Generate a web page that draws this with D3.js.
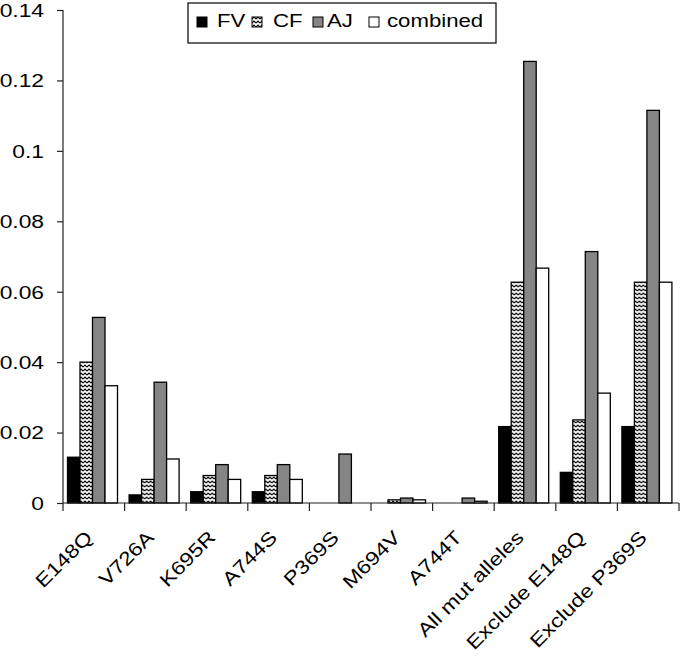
<!DOCTYPE html>
<html><head><meta charset="utf-8">
<script src="https://cdn.jsdelivr.net/npm/d3@7"></script>
<style>body{margin:0;background:#fff}svg{display:block}text{font-family:Arial,"Liberation Sans",sans-serif;fill:#000}</style>
</head><body>
<script>
const categories = ["E148Q","V726A","K695R","A744S","P369S","M694V","A744T","All mut alleles","Exclude E148Q","Exclude P369S"];
const seriesNames = ["FV","CF","AJ","combined"];
const FV = [0.013,0.0023,0.0032,0.0032,0,0,0,0.0217,0.0087,0.0217];
const CF = [0.040,0.0067,0.0078,0.0078,0,0.0009,0,0.0627,0.0236,0.0627];
const AJ = [0.0527,0.0343,0.0109,0.0109,0.0139,0.0014,0.0014,0.1254,0.0714,0.1115];
const combined = [0.0333,0.0125,0.0067,0.0067,0,0.0009,0.0005,0.0667,0.0312,0.0627];
const yTicks = [0,0.02,0.04,0.06,0.08,0.1,0.12,0.14];
const seriesValues = [FV,CF,AJ,combined];

const W=680,H=657, SX=1.2;
const svg=d3.select("body").append("svg").attr("width",W).attr("height",H);
const defs=svg.append("defs");
const pat=defs.append("pattern").attr("id","zig").attr("patternUnits","userSpaceOnUse").attr("width",4).attr("height",4);
pat.append("rect").attr("width",4).attr("height",4).attr("fill","#fff");
pat.append("path").attr("d","M0,3 L2,1 L4,3").attr("stroke","#000").attr("stroke-width",1.1).attr("fill","none");
const fills={FV:"#000",CF:"url(#zig)",AJ:"#858585",combined:"#fff"};

const x0=d3.scaleBand().domain(categories).range([63,679]).padding(0);
const x1=d3.scaleBand().domain(seriesNames).range([4.5,54.5]).padding(0);
const y=d3.scaleLinear().domain([0,0.14]).range([503,10]);

const rows=categories.map((c,i)=>({c,vals:seriesNames.map((s,j)=>({s,v:seriesValues[j][i]}))}));
const g=svg.append("g");
g.selectAll("g.grp").data(rows).join("g").attr("transform",d=>`translate(${x0(d.c)},0)`)
 .selectAll("rect").data(d=>d.vals.filter(e=>e.v>0)).join("rect")
 .attr("x",d=>x1(d.s)).attr("width",x1.bandwidth()).attr("y",d=>y(d.v)).attr("height",d=>y(0)-y(d.v))
 .attr("fill",d=>fills[d.s]).attr("stroke","#000").attr("stroke-width",1.3);

// y axis
const ya=svg.append("g").attr("transform","translate(63,0)").call(d3.axisLeft(y).tickValues(yTicks).tickFormat("").tickSize(6));
ya.select(".domain").attr("stroke","#222").attr("stroke-width",1.2).attr("d","M0,10V503");
ya.selectAll(".tick line").attr("stroke","#222").attr("stroke-width",1.2);
svg.append("g").selectAll("text").data(yTicks).join("text")
 .attr("transform",d=>`translate(44,${y(d)}) scale(${SX},1)`)
 .attr("text-anchor","end").attr("dy","0.36em").attr("font-size",19).text(d=>String(d));

// x axis
const xa=svg.append("g").attr("transform","translate(0,503)");
xa.append("line").attr("x1",63).attr("x2",679).attr("stroke","#222").attr("stroke-width",1.2);
const bounds=categories.map(c=>x0(c)).concat([x0.range()[1]]);
xa.selectAll("line.tk").data(bounds).join("line").attr("class","tk").attr("x1",d=>d).attr("x2",d=>d).attr("y1",0).attr("y2",8).attr("stroke","#222").attr("stroke-width",1.2);
svg.append("g").selectAll("text").data(categories).join("text")
 .attr("transform",d=>`translate(${x0(d)+x0.bandwidth()/2-10},529) rotate(-45) scale(1.2,1)`)
 .attr("text-anchor","end").attr("dy","0.72em").attr("font-size",19).text(d=>d);

// legend
const lg=svg.append("g");
lg.append("rect").attr("x",188).attr("y",3).attr("width",308).attr("height",40).attr("fill","#fff").attr("stroke","#000").attr("stroke-width",1.2);
const swX=[197,252,313,369], txX=[217,273,327,387];
seriesNames.forEach((s,i)=>{
  lg.append("rect").attr("x",swX[i]).attr("y",17).attr("width",10).attr("height",10).attr("fill",fills[s]).attr("stroke","#000").attr("stroke-width",1);
  lg.append("text").attr("transform",`translate(${txX[i]},27) scale(${SX},1)`).attr("font-size",18.5).text(s);
});
</script>
</body></html>
